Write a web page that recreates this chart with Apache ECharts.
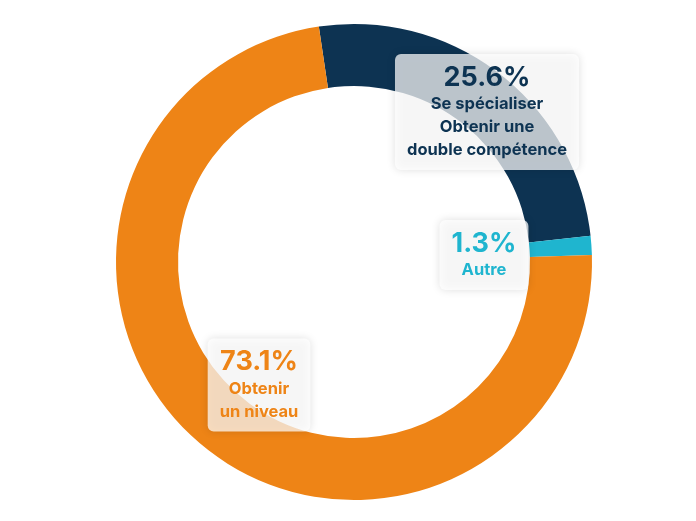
<!DOCTYPE html>
<html>
<head>
<meta charset="utf-8">
<script src="https://cdn.jsdelivr.net/npm/echarts@6/dist/echarts.min.js"></script>
<style>html,body{margin:0;background:#fff}#c{width:696px;height:521px}</style>
</head>
<body>
<div id="c"></div>
<script>
const names = ['Se spécialiser\nObtenir une\ndouble compétence', 'Autre', 'Obtenir\nun niveau'];
const values = [25.6, 1.3, 73.1];
const colors = ['#0d3352', '#1fb5cf', '#ee8416'];
const labelPos = [[487, 112], [484, 255], [259, 385]];

const chart = echarts.init(document.getElementById('c'));
chart.setOption({
    animation: false,
    series: [{
        type: 'pie',
        center: [354, 262],
        radius: [176, 238],
        startAngle: 98.5,
        clockwise: true,
        data: values.map((v, i) => ({
            value: v,
            name: names[i],
            itemStyle: {color: colors[i]},
            label: {
                formatter: p => '{v|' + p.value.toFixed(1) + '%}\n{n|' + p.name.split('\n').join('}\n{n|') + '}',
                rich: {
                    v: {fontSize: 27, fontWeight: 'bold', color: colors[i], lineHeight: 31, fontFamily: 'Inter'},
                    n: {fontSize: 16.5, fontWeight: 'bold', color: colors[i], lineHeight: 23, fontFamily: 'Inter'},
                },
            },
        })),
        label: {
            show: true,
            position: 'inside',
            align: 'center',
            verticalAlign: 'middle',
            backgroundColor: 'rgba(255,255,255,0.72)',
            borderRadius: 6,
            padding: [8, 12],
            shadowColor: 'rgba(0,0,0,0.18)',
            shadowBlur: 8,
        },
        labelLine: {show: false},
        labelLayout: p => ({x: labelPos[p.dataIndex][0], y: labelPos[p.dataIndex][1], align: 'center', verticalAlign: 'middle'}),
    }],
});
</script>
</body>
</html>
